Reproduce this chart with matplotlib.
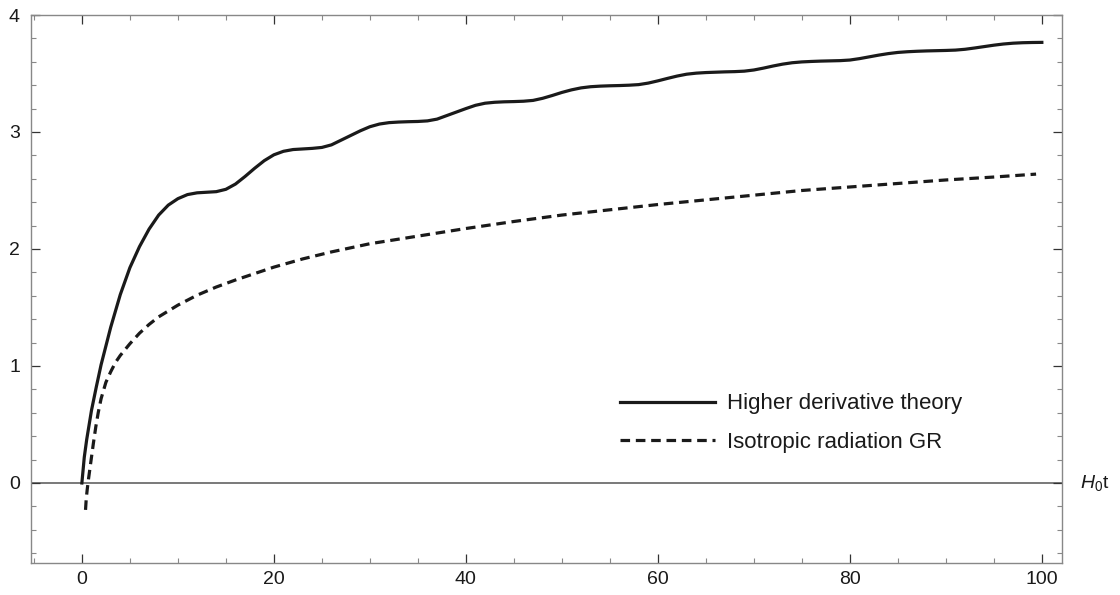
import matplotlib
matplotlib.use("Agg")
import matplotlib.pyplot as plt
from matplotlib.ticker import MultipleLocator
import matplotlib.transforms as mtransforms

plt.rcParams['font.family'] = ['Liberation Sans', 'DejaVu Sans']
plt.rcParams['mathtext.fontset'] = 'custom'
plt.rcParams['mathtext.rm'] = 'Liberation Sans'
plt.rcParams['mathtext.it'] = 'Liberation Sans:italic'

# ---------------------------------------------------------------- data
# higher derivative theory, sampled every unit of H0 t (denser at the start)
t_hd = [0, 0.25, 0.5, 1, 1.5, 2, 3, 4, 5, 6, 7, 8, 9, 10, 11, 12, 13, 14, 15, 16, 17, 18,
        19, 20, 21, 22, 23, 24, 25, 26, 27, 28, 29, 30, 31, 32, 33, 34, 35, 36, 37, 38,
        39, 40, 41, 42, 43, 44, 45, 46, 47, 48, 49, 50, 51, 52, 53, 54, 55, 56, 57, 58,
        59, 60, 61, 62, 63, 64, 65, 66, 67, 68, 69, 70, 71, 72, 73, 74, 75, 76, 77, 78,
        79, 80, 81, 82, 83, 84, 85, 86, 87, 88, 89, 90, 91, 92, 93, 94, 95, 96, 97, 98,
        99, 100]
y_hd = [0, 0.22, 0.37, 0.62, 0.82, 1.01, 1.33, 1.61, 1.84, 2.02, 2.17, 2.29, 2.375, 2.43,
        2.465, 2.48, 2.485, 2.49, 2.51, 2.555, 2.62, 2.69, 2.755, 2.805, 2.835, 2.85,
        2.855, 2.86, 2.868, 2.89, 2.93, 2.97, 3.01, 3.045, 3.068, 3.08, 3.085, 3.088,
        3.09, 3.095, 3.11, 3.14, 3.17, 3.20, 3.228, 3.246, 3.254, 3.258, 3.26, 3.263,
        3.27, 3.288, 3.312, 3.338, 3.36, 3.377, 3.387, 3.392, 3.395, 3.397, 3.40, 3.405,
        3.418, 3.437, 3.458, 3.478, 3.494, 3.503, 3.508, 3.511, 3.514, 3.516, 3.52, 3.53,
        3.546, 3.564, 3.58, 3.592, 3.599, 3.603, 3.606, 3.608, 3.61, 3.615, 3.627, 3.642,
        3.657, 3.67, 3.68, 3.686, 3.69, 3.693, 3.695, 3.697, 3.70, 3.707, 3.718, 3.73,
        3.742, 3.752, 3.759, 3.763, 3.765, 3.766]

# isotropic radiation GR
t_gr = [0.38, 0.45, 0.55, 0.7, 0.85, 1.0, 1.2, 1.45, 1.7, 2.0, 2.5, 3.0, 3.5, 4.0, 5.0,
        6.0, 7.0, 8.0, 9.0, 10, 12, 14, 16, 18, 20, 23, 26, 30, 35, 40, 45, 50, 55, 60,
        65, 70, 75, 80, 85, 90, 95, 99.4]
y_gr = [-0.23, -0.14, -0.06, 0.04, 0.13, 0.22, 0.34, 0.48, 0.60, 0.72, 0.86, 0.95, 1.03,
        1.09, 1.19, 1.28, 1.355, 1.42, 1.47, 1.52, 1.605, 1.675, 1.735, 1.79, 1.845,
        1.915, 1.975, 2.045, 2.11, 2.175, 2.235, 2.29, 2.335, 2.38, 2.42, 2.46, 2.50,
        2.53, 2.56, 2.59, 2.615, 2.64]

labels = ["Higher derivative theory", "Isotropic radiation GR"]

# ---------------------------------------------------------------- figure
fig = plt.figure(figsize=(11.2, 5.95), dpi=100)
ax = fig.add_axes([31 / 1120, 32 / 595, 1031 / 1120, 548 / 595])

ax.axhline(0, color='#555555', lw=1.1, zorder=1)
ax.plot(t_hd, y_hd, color='#1a1a1a', lw=2.3, label=labels[0], zorder=3,
        solid_joinstyle='round')
ax.plot(t_gr, y_gr, color='#1a1a1a', lw=2.3, dashes=(3.0, 1.8), dash_capstyle='butt',
        label=labels[1], zorder=3)

ax.set_xlim(-5.3, 102.1)
ax.set_ylim(-0.684, 4.0)

ax.xaxis.set_major_locator(MultipleLocator(20))
ax.xaxis.set_minor_locator(MultipleLocator(5))
ax.yaxis.set_major_locator(MultipleLocator(1))
ax.yaxis.set_minor_locator(MultipleLocator(0.2))

for s in ax.spines.values():
    s.set_color('#888888')
    s.set_linewidth(1.0)

ax.tick_params(which='both', direction='in', top=True, right=True, labelsize=14,
               labelcolor='#1a1a1a')
ax.tick_params(which='major', length=6.5, width=0.9, color='#333333')
ax.tick_params(which='minor', length=3.5, width=0.8, color='#888888')
ax.tick_params(axis='x', which='major', pad=6)
ax.tick_params(axis='y', which='major', pad=8)

leg = ax.legend(loc='center left', bbox_to_anchor=(0.571, 0.255), frameon=False,
                fontsize=16, handlelength=4.3, handletextpad=0.55, labelspacing=0.8,
                borderpad=0, borderaxespad=0)
for txt in leg.get_texts():
    txt.set_color('#1a1a1a')

trans = mtransforms.blended_transform_factory(ax.transAxes, ax.transData)
ax.text(1.017, 0, r'$H_0$t', transform=trans, fontsize=14, va='center', ha='left',
        color='#1a1a1a')

fig.savefig('out.png', dpi=100)
